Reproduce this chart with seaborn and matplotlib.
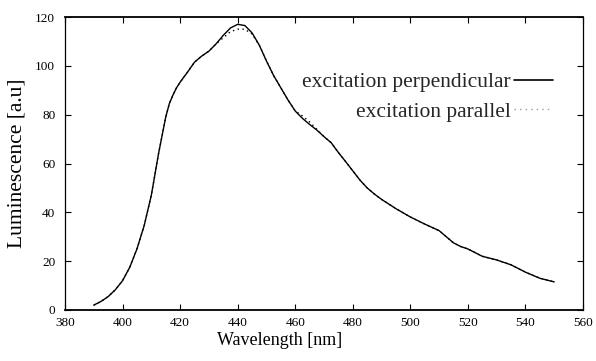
import numpy as np
import pandas as pd
import matplotlib
matplotlib.use("Agg")
import matplotlib.pyplot as plt
import seaborn as sns
from matplotlib.lines import Line2D

wavelength = [390, 392.5, 395, 397.5, 400, 402.5, 405, 407.5, 410, 412.5, 415, 416.25,
              417.5, 418.75, 420, 422.5, 425,
              427.5, 430, 432.5, 435, 437.5, 440, 442.5, 445, 447.5, 450, 452.5,
              455, 457.5, 460, 462.5, 465, 467.5, 470, 472.5, 475, 477.5, 480,
              482.5, 485, 487.5, 490, 495, 500, 505, 510, 512.5, 515, 517.5, 520,
              525, 530, 535, 540, 545, 550]
perpendicular = [2, 3.5, 5.5, 8.3, 12, 17.5, 25, 34.5, 47, 64, 79, 84.5,
                 88, 91, 93.3, 97.3, 101.5,
                 104, 106, 109, 112.5, 115.5, 117, 116.5, 113.5, 108.5, 102, 96,
                 91, 86, 81.5, 78.5, 76, 73.7, 71, 68.5, 64.5, 60.8, 57,
                 53.2, 50, 47.5, 45.3, 41.5, 38.1, 35.2, 32.5, 30, 27.5, 26, 25,
                 22, 20.5, 18.5, 15.5, 13, 11.5]
parallel = [2, 3.5, 5.5, 8.3, 12, 17.5, 25, 34.5, 47, 64, 79, 84.5,
            88, 91, 93.3, 97.3, 101.5,
            104, 106, 109, 111.5, 114, 115, 115, 113, 108.5, 102, 96,
            91, 86, 81.5, 79.5, 77, 74, 71, 68.5, 64.5, 60.8, 57,
            53.2, 50, 47.5, 45.3, 41.5, 38.1, 35.2, 32.5, 30, 27.5, 26, 25,
            22, 20.5, 18.5, 15.5, 13, 11.5]
series_labels = ["excitation perpendicular", "excitation parallel"]
x_ticks = [380, 400, 420, 440, 460, 480, 500, 520, 540, 560]
y_ticks = [0, 20, 40, 60, 80, 100, 120]

sns.set_theme(style="ticks")
plt.rcParams['font.family'] = ['Liberation Serif', 'DejaVu Serif']

df = pd.DataFrame({
    "wl": wavelength * 2,
    "lum": perpendicular + parallel,
    "series": [series_labels[0]] * len(wavelength) + [series_labels[1]] * len(wavelength),
})

fig = plt.figure(figsize=(5.96, 3.61), dpi=100)
ax = fig.add_axes([65/596, 1-310/361, 518/596, 293/361])

sns.lineplot(data=df[df.series == series_labels[1]], x="wl", y="lum", ax=ax,
             color="black", linestyle=(0, (1, 2.5)), linewidth=1.0, legend=False)
sns.lineplot(data=df[df.series == series_labels[0]], x="wl", y="lum", ax=ax,
             color="black", linewidth=1.0, legend=False,
             solid_joinstyle="round")

ax.set_xlim(380, 560)
ax.set_ylim(0, 120)
ax.set_xticks(x_ticks)
ax.set_yticks(y_ticks)
ax.tick_params(direction="in", length=4, width=0.8, top=True, right=True,
               labeltop=False, labelright=False, labelsize=9.5, colors="black")
ax.tick_params(axis="y", pad=7)
ax.tick_params(axis="x", pad=5)
for s in ax.spines.values():
    s.set_color("black")
    s.set_linewidth(0.9)
ax.spines["top"].set_linewidth(1.3)
ax.spines["bottom"].set_linewidth(1.3)

ax.set_xlabel("Wavelength [nm]", fontsize=13, color="black")
ax.set_ylabel("Luminescence [a.u]", fontsize=15.5, color="black")
ax.xaxis.set_label_coords((280-65)/518, -(332-310)/293)
ax.yaxis.set_label_coords(-(65-27)/518, 0.5)

handles = [Line2D([], [], color="black", linewidth=1.2),
           Line2D([], [], color="#999999", linewidth=1.0, linestyle=(0, (1, 3)))]
ax.legend(handles, series_labels, loc="upper right", bbox_to_anchor=((553-65)/518, 1-(72-17)/293),
          frameon=False, markerfirst=False, fontsize=15.5, handlelength=1.8,
          handletextpad=0.15, labelspacing=0.45, borderaxespad=0, borderpad=0)

fig.savefig("out.png", dpi=100)
